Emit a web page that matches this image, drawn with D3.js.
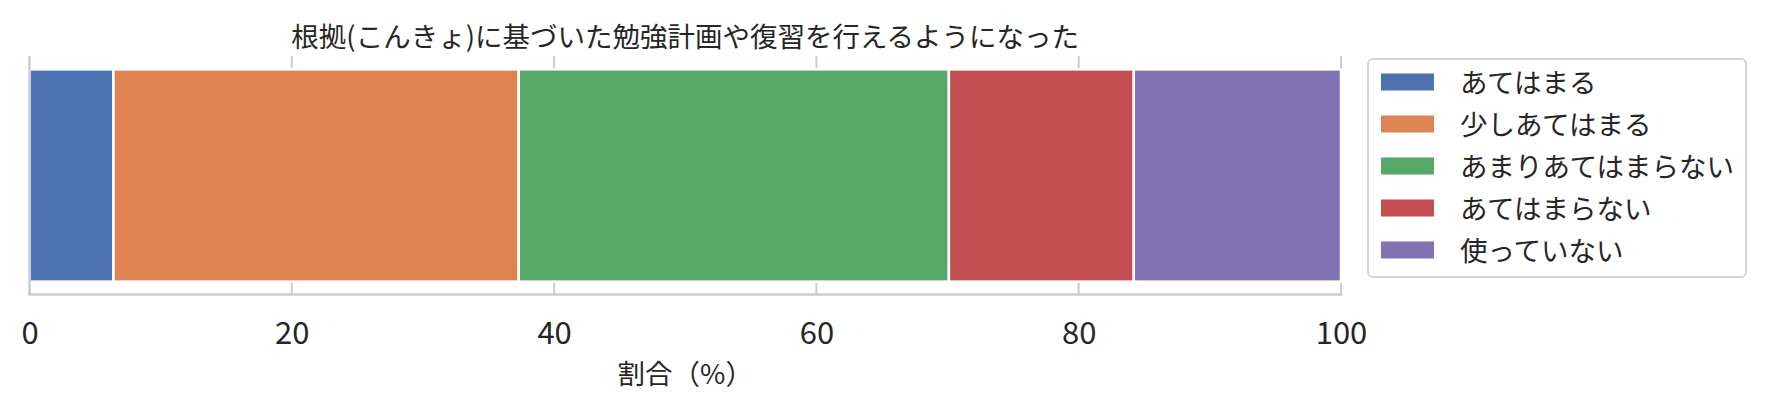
<!DOCTYPE html>
<html><head><meta charset="utf-8">
<script src="https://cdn.jsdelivr.net/npm/d3@7"></script>
<style>
html,body{margin:0;padding:0;background:#fff;}
text{font-family:"Noto Sans CJK JP","Noto Sans",sans-serif;fill:#262626;}
</style></head>
<body>
<svg id="chart" width="1765" height="408"></svg>
<script>
const title = "根拠(こんきょ)に基づいた勉強計画や復習を行えるようになった";
const categories = ["根拠"];
const seriesNames = ["あてはまる","少しあてはまる","あまりあてはまらない","あてはまらない","使っていない"];
const seriesValues = [6.4, 30.9, 32.8, 14.1, 15.8];
const colors = ["#4c72b0","#dd8452","#55a868","#c44e52","#8172b3"];
const tickValues = [0,20,40,60,80,100];
const xLabel = "割合（%）";

(function(){
const svg = d3.select("#chart");
const pL = 29.5, pR = 1341, pT = 56, pB = 295;
const x = d3.scaleLinear().domain([0,100]).range([pL,pR]);
const y = d3.scaleBand().domain(categories).range([pT,pB]).paddingInner(0).paddingOuter(0.063);

// grid
svg.append("g").selectAll("line").data(tickValues.filter(d=>d>0)).join("line")
  .attr("x1",d=>x(d)).attr("x2",d=>x(d)).attr("y1",pT).attr("y2",pB)
  .attr("stroke","#cccccc").attr("stroke-width",2);

// bars
let cum = 0;
const segs = seriesValues.map((v,i)=>{const s={start:cum,end:cum+v,i}; cum+=v; return s;});
svg.append("g").selectAll("rect").data(segs).join("rect")
  .attr("x",d=>x(d.start)).attr("width",d=>x(d.end)-x(d.start))
  .attr("y",y(categories[0])).attr("height",y.bandwidth())
  .attr("fill",d=>colors[d.i]).attr("stroke","#ffffff").attr("stroke-width",2.5);

// spines
svg.append("line").attr("x1",pL).attr("x2",pL).attr("y1",pT).attr("y2",pB)
  .attr("stroke","#cccccc").attr("stroke-width",2.5);
svg.append("line").attr("x1",pL-1.25).attr("x2",pR+1.5).attr("y1",pB-0.5).attr("y2",pB-0.5)
  .attr("stroke","#cccccc").attr("stroke-width",2.5);

// x axis tick labels
const xAxis = d3.axisBottom(x).tickValues(tickValues).tickSize(0).tickPadding(0).tickFormat(d3.format("d"));
const gx = svg.append("g").attr("transform",`translate(0,${pB})`).call(xAxis);
gx.select(".domain").remove();
gx.selectAll("text").attr("font-size",31).attr("dy",null).attr("y",49)
  .style("font-family",'"Noto Sans CJK JP","Noto Sans",sans-serif').attr("fill","#262626");

// x label
svg.append("text").attr("x",(pL+pR)/2).attr("y",384).attr("text-anchor","middle")
  .attr("font-size",27.5).text(xLabel);

// title
svg.append("text").attr("x",(pL+pR)/2).attr("y",47).attr("text-anchor","middle")
  .attr("font-size",27.5).text(title);

// legend
const lg = svg.append("g");
lg.append("rect").attr("x",1368).attr("y",59).attr("width",378).attr("height",218)
  .attr("rx",5).attr("fill","#fff").attr("stroke","#d5d5d5").attr("stroke-width",2);
const rowY = d3.scalePoint().domain(seriesNames).range([82,250]);
lg.selectAll("rect.p").data(seriesNames).join("rect").attr("class","p")
  .attr("x",1381).attr("y",d=>rowY(d)-8.5).attr("width",53).attr("height",17)
  .attr("fill",(d,i)=>colors[i]);
lg.selectAll("text").data(seriesNames).join("text")
  .attr("x",1460).attr("y",d=>rowY(d)+10.5).attr("font-size",27.5).text(d=>d);
})();
</script>
</body></html>
